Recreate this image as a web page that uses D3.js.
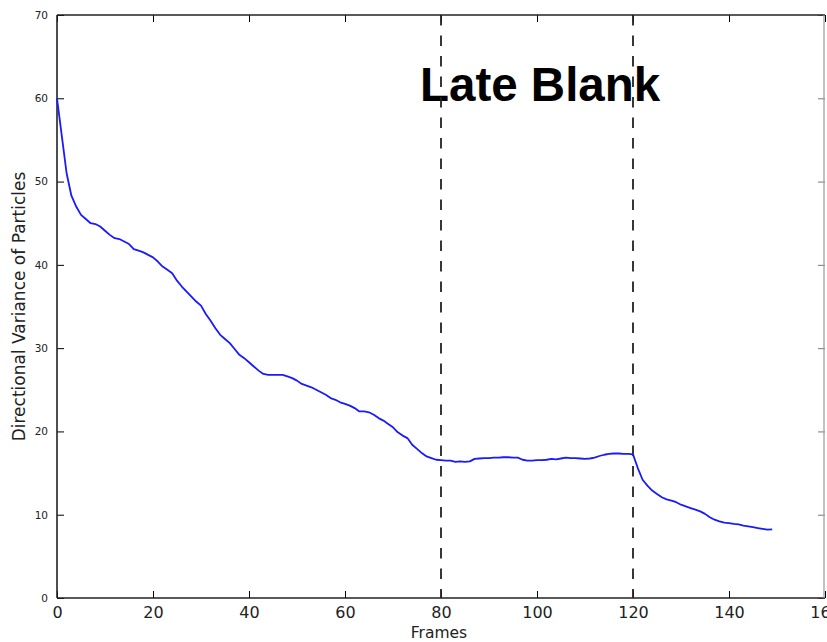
<!DOCTYPE html>
<html>
<head>
<meta charset="utf-8">
<script src="https://cdn.jsdelivr.net/npm/d3@7/dist/d3.min.js"></script>
<style>
  html, body { margin: 0; padding: 0; background: #fff; }
  svg { display: block; }
</style>
</head>
<body>
<div id="chart"></div>
<script>
// Directional variance of particles per frame
const frames = d3.range(0, 150);
const variance = [
  60.0, 55.5, 51.0, 48.3, 47.0, 46.0, 45.5, 45.0, 44.9, 44.6,
  44.1, 43.6, 43.2, 43.1, 42.8, 42.5, 41.9, 41.7, 41.5, 41.2,
  40.9, 40.4, 39.8, 39.4, 39.0, 38.1, 37.4, 36.8, 36.2, 35.6,
  35.1, 34.1, 33.3, 32.4, 31.6, 31.1, 30.6, 29.9, 29.2, 28.8,
  28.3, 27.8, 27.3, 26.9, 26.8, 26.8, 26.8, 26.8, 26.6, 26.4,
  26.1, 25.7, 25.5, 25.3, 25.0, 24.7, 24.4, 24.0, 23.8, 23.5,
  23.3, 23.1, 22.8, 22.4, 22.4, 22.3, 22.0, 21.6, 21.3, 20.9,
  20.5, 19.9, 19.5, 19.2, 18.4, 17.9, 17.4, 17.0, 16.8, 16.6,
  16.55, 16.5, 16.5, 16.35, 16.4, 16.35, 16.4, 16.7, 16.75, 16.8,
  16.8, 16.85, 16.85, 16.9, 16.9, 16.85, 16.85, 16.6, 16.5, 16.5,
  16.55, 16.55, 16.6, 16.7, 16.65, 16.75, 16.85, 16.8, 16.8, 16.75,
  16.7, 16.75, 16.85, 17.05, 17.2, 17.3, 17.35, 17.35, 17.3, 17.3,
  17.25, 15.6, 14.2, 13.5, 12.9, 12.5, 12.1, 11.85, 11.7, 11.5,
  11.2, 11.0, 10.8, 10.6, 10.4, 10.1, 9.7, 9.4, 9.2, 9.05,
  9.0, 8.9, 8.85, 8.7, 8.6, 8.5, 8.4, 8.3, 8.2, 8.25
];

// Phase boundaries and annotation
const phaseMarks = [80, 120];
const phaseLabel = "Late Blank";
const xTicks = [0, 20, 40, 60, 80, 100, 120, 140, 160];
const yTicks = [0, 10, 20, 30, 40, 50, 60, 70];
const xTitle = "Frames";
const yTitle = "Directional Variance of Particles";

const W = 827, H = 642;
const m = { left: 57, right: 825, top: 15, bottom: 598 };

const svg = d3.select("#chart").append("svg")
  .attr("width", W).attr("height", H);

const x = d3.scaleLinear().domain([0, 160]).range([m.left, m.right]);
const y = d3.scaleLinear().domain([0, 70]).range([m.bottom, m.top]);

const tickFont = "'DejaVu Sans', sans-serif";

// Bottom axis: inward ticks, labels below
const xAxis = svg.append("g")
  .attr("transform", `translate(0,${m.bottom})`)
  .call(d3.axisBottom(x).tickValues(xTicks).tickFormat(d3.format("d"))
        .tickSizeInner(-7).tickSizeOuter(0).tickPadding(9));
xAxis.select(".domain").remove();
xAxis.selectAll(".tick line").attr("stroke", "#000").attr("stroke-width", 1);
xAxis.selectAll(".tick text")
  .attr("font-family", tickFont).attr("font-size", 16).attr("fill", "#222");

// Left axis
const yAxis = svg.append("g")
  .attr("transform", `translate(${m.left},0)`)
  .call(d3.axisLeft(y).tickValues(yTicks).tickFormat(d3.format("d"))
        .tickSizeInner(-7).tickSizeOuter(0).tickPadding(9));
yAxis.select(".domain").remove();
yAxis.selectAll(".tick line").attr("stroke", "#000").attr("stroke-width", 1);
yAxis.selectAll(".tick text")
  .attr("font-family", tickFont).attr("font-size", 10.5).attr("fill", "#222");

// Top and right mirrored ticks
const xTop = svg.append("g")
  .attr("transform", `translate(0,${m.top})`)
  .call(d3.axisTop(x).tickValues(xTicks).tickFormat("").tickSizeInner(-7).tickSizeOuter(0));
xTop.select(".domain").remove();
xTop.selectAll(".tick line").attr("stroke", "#000").attr("stroke-width", 1);

const yRight = svg.append("g")
  .attr("transform", `translate(${m.right},0)`)
  .call(d3.axisRight(y).tickValues(yTicks).tickFormat("").tickSizeInner(-7).tickSizeOuter(0));
yRight.select(".domain").remove();
yRight.selectAll(".tick line").attr("stroke", "#777").attr("stroke-width", 1);

// Frame spines
svg.append("line").attr("x1", m.left).attr("x2", m.right).attr("y1", m.bottom).attr("y2", m.bottom)
  .attr("stroke", "#222").attr("stroke-width", 1.6);
svg.append("line").attr("x1", m.left).attr("x2", m.right).attr("y1", m.top).attr("y2", m.top)
  .attr("stroke", "#222").attr("stroke-width", 1.6);
svg.append("line").attr("x1", m.left).attr("x2", m.left).attr("y1", m.top).attr("y2", m.bottom)
  .attr("stroke", "#222").attr("stroke-width", 1.6);
svg.append("line").attr("x1", m.right - 1).attr("x2", m.right - 1).attr("y1", m.top).attr("y2", m.bottom)
  .attr("stroke", "#999").attr("stroke-width", 1.2);

// Axis titles
svg.append("text")
  .attr("x", (m.left + m.right) / 2 - 2).attr("y", 638)
  .attr("text-anchor", "middle")
  .attr("font-family", tickFont).attr("font-size", 15.5).attr("fill", "#222")
  .text(xTitle);

svg.append("text")
  .attr("transform", `translate(25,${(m.top + m.bottom) / 2}) rotate(-90)`)
  .attr("text-anchor", "middle")
  .attr("font-family", tickFont).attr("font-size", 17).attr("fill", "#222")
  .text(yTitle);

// Phase label
svg.append("text")
  .attr("x", 420).attr("y", 101)
  .attr("font-family", "'Liberation Sans', Arial, sans-serif")
  .attr("font-weight", "bold").attr("font-size", 47.5).attr("fill", "#000")
  .text(phaseLabel);

// Phase boundary markers
svg.selectAll("line.phase").data(phaseMarks).enter().append("line")
  .attr("class", "phase")
  .attr("x1", d => x(d)).attr("x2", d => x(d))
  .attr("y1", m.top).attr("y2", m.bottom)
  .attr("stroke", "#222").attr("stroke-width", 1.8)
  .attr("stroke-dasharray", "10.5,10");

// Variance curve
const line = d3.line()
  .x((d, i) => x(frames[i]))
  .y(d => y(d));

svg.append("path")
  .datum(variance)
  .attr("fill", "none")
  .attr("stroke", "#1a1aff")
  .attr("stroke-width", 1.8)
  .attr("stroke-linejoin", "round")
  .attr("d", line);
</script>
</body>
</html>
